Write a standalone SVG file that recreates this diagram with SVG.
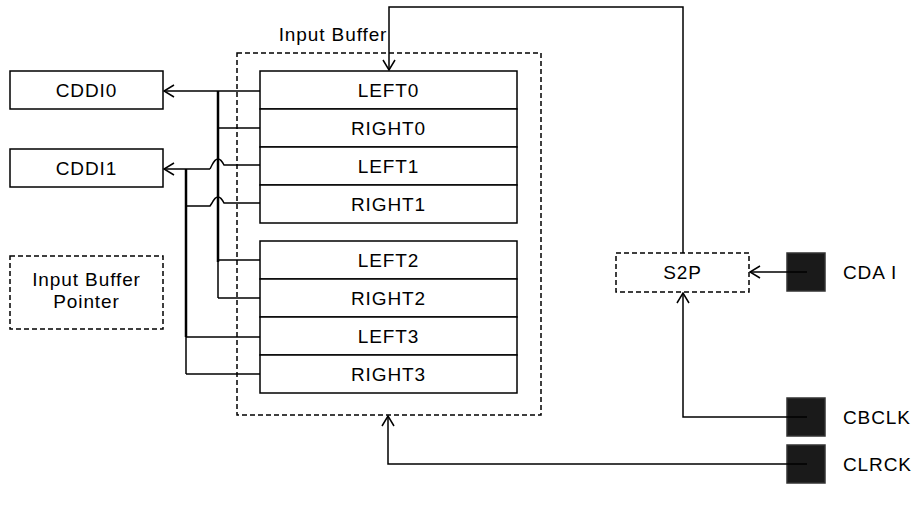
<svg xmlns="http://www.w3.org/2000/svg" width="915" height="510" viewBox="0 0 915 510">
<style>
.box{fill:#fff;stroke:#000;stroke-width:1.5}
.dash{fill:#fff;stroke:#000;stroke-width:1.5;stroke-dasharray:5,3}
.dashn{fill:none;stroke:#000;stroke-width:1.5;stroke-dasharray:5,3}
.pin{fill:#1a1a1a;stroke:#333;stroke-width:1.5}
.t{font-family:"Liberation Sans",Arial,sans-serif;font-size:19px;fill:#000;letter-spacing:0.9px}
.c{text-anchor:middle}
.w{fill:none;stroke:#000;stroke-width:1.5}
.bus{fill:none;stroke:#000;stroke-width:2.5}
</style>
<defs>
<marker id="arr" viewBox="0 0 12 14" refX="11" refY="7" markerWidth="12" markerHeight="14" markerUnits="userSpaceOnUse" orient="auto">
<path d="M1,1 L11,7 L1,13" fill="none" stroke="#000" stroke-width="1.5"/>
</marker>
</defs>
<g id="input-buffer">
<rect class="dashn" x="237" y="53" width="304" height="362"/>
<text class="t c" x="333" y="41">Input Buffer</text>
</g>
<g id="left0"><rect class="box" x="260" y="71" width="257" height="38"/><text class="t c" x="388.5" y="97">LEFT0</text></g>
<g id="right0"><rect class="box" x="260" y="109" width="257" height="38"/><text class="t c" x="388.5" y="135">RIGHT0</text></g>
<g id="left1"><rect class="box" x="260" y="147" width="257" height="38"/><text class="t c" x="388.5" y="173">LEFT1</text></g>
<g id="right1"><rect class="box" x="260" y="185" width="257" height="38"/><text class="t c" x="388.5" y="211">RIGHT1</text></g>
<g id="left2"><rect class="box" x="260" y="241" width="257" height="38"/><text class="t c" x="388.5" y="267">LEFT2</text></g>
<g id="right2"><rect class="box" x="260" y="279" width="257" height="38"/><text class="t c" x="388.5" y="305">RIGHT2</text></g>
<g id="left3"><rect class="box" x="260" y="317" width="257" height="38"/><text class="t c" x="388.5" y="343">LEFT3</text></g>
<g id="right3"><rect class="box" x="260" y="355" width="257" height="38"/><text class="t c" x="388.5" y="381">RIGHT3</text></g>
<g id="cddi0"><rect class="box" x="10" y="71" width="153" height="38"/><text class="t c" x="86.5" y="97">CDDI0</text></g>
<g id="cddi1"><rect class="box" x="10" y="149" width="153" height="38"/><text class="t c" x="86.5" y="175">CDDI1</text></g>
<g id="input-buffer-pointer"><rect class="dash" x="10" y="256" width="153" height="73"/><text class="t c" x="86.5" y="286">Input Buffer</text><text class="t c" x="86.5" y="308">Pointer</text></g>
<g id="s2p"><rect class="dash" x="616" y="253" width="133" height="39"/><text class="t c" x="682.5" y="279">S2P</text></g>
<g id="cdai"><rect class="pin" x="787" y="253" width="38" height="38"/><text class="t" x="843" y="279">CDA I</text></g>
<g id="cbclk"><rect class="pin" x="787" y="398" width="38" height="38"/><text class="t" x="843" y="424">CBCLK</text></g>
<g id="clrck"><rect class="pin" x="787" y="445" width="38" height="38"/><text class="t" x="843" y="471">CLRCK</text></g>
<g id="connectors">
<path class="w" d="M260,91 H164" marker-end="url(#arr)"/>
<path class="bus" d="M218,91 V262"/>
<path class="w" d="M218,262 V298"/>
<path class="w" d="M260,128 H218"/>
<path class="w" d="M260,260 H218"/>
<path class="w" d="M260,298 H218"/>
<path class="w" d="M210,169 H164" marker-end="url(#arr)"/>
<path class="bus" d="M186,169 V337"/>
<path class="w" d="M186,337 V374"/>
<path class="w" d="M210,169 L212,165 Q218,153 224,165 H260"/>
<path class="w" d="M186,206 H210 L212,203 Q218,191 224,203 H260"/>
<path class="w" d="M186,337 H260"/>
<path class="w" d="M186,374 H260"/>
<path class="w" d="M683,253 V7 H389 V70" marker-end="url(#arr)"/>
<path class="w" d="M807,272 H750" marker-end="url(#arr)"/>
<path class="w" d="M807,417 H683 V293" marker-end="url(#arr)"/>
<path class="w" d="M807,464 H388 V416" marker-end="url(#arr)"/>
</g>
</svg>
